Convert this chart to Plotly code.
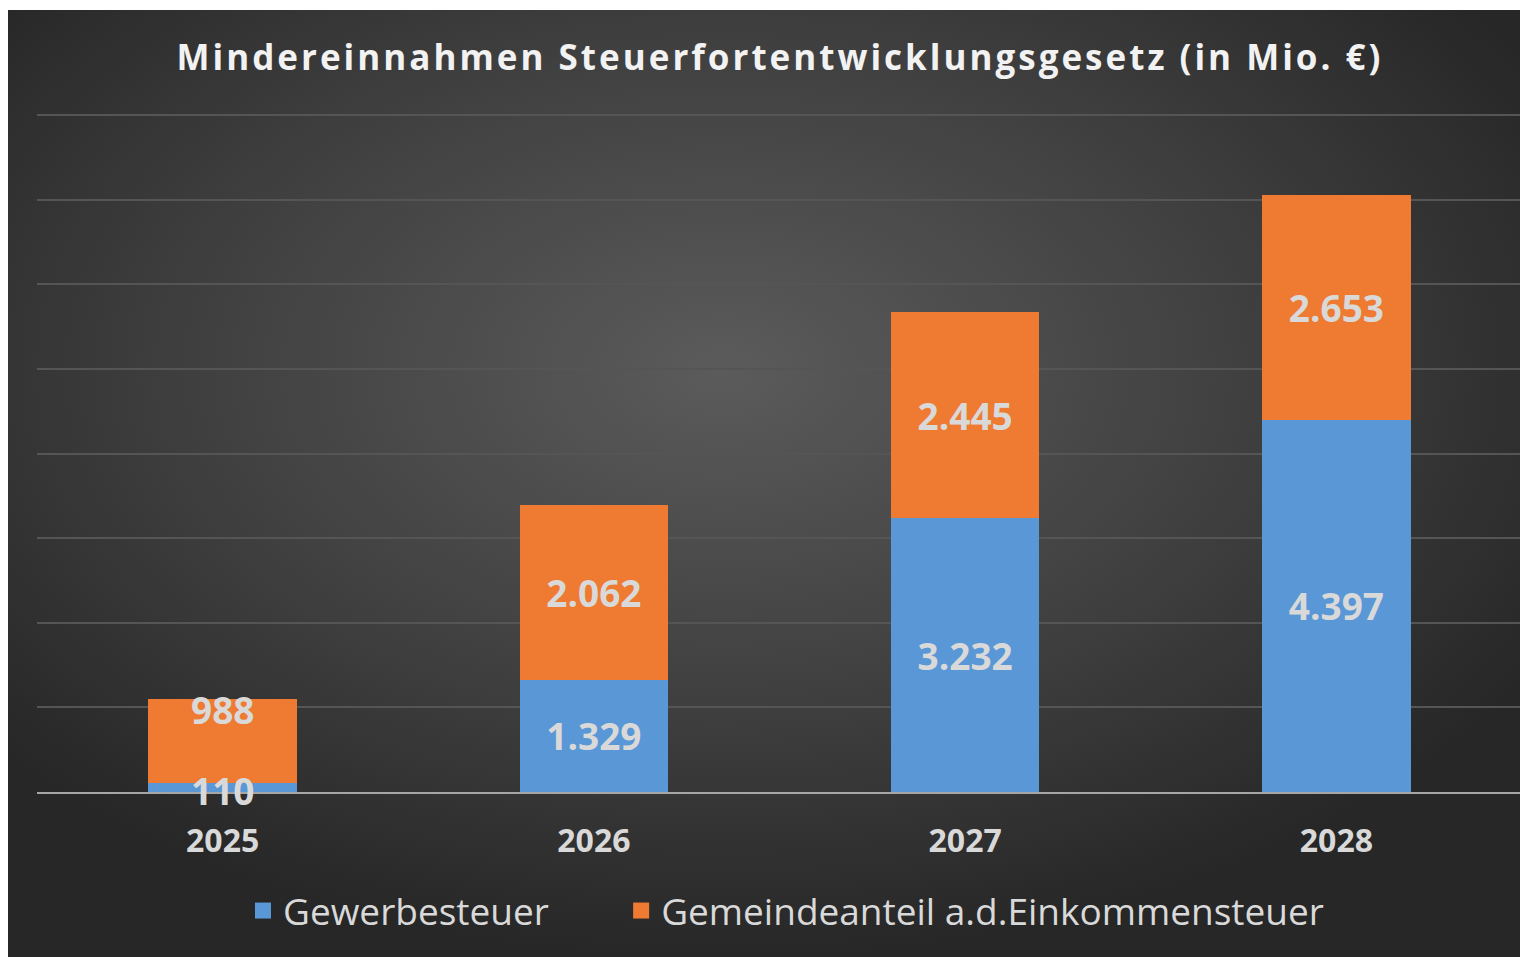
import base64
import plotly.graph_objects as go

years = ["2025", "2026", "2027", "2028"]
gewerbe = [110, 1329, 3232, 4397]
einkommen = [988, 2062, 2445, 2653]
series_names = ["Gewerbesteuer", "Gemeindeanteil a.d.Einkommensteuer"]
title_text = "Mindereinnahmen Steuerfortentwicklungsgesetz (in Mio. €)"


def de_fmt(v):
    return f"{v:,}".replace(",", ".")


# figure sits at (8, 8) in the page because of the default body margin
W, H = 1520, 949
L, R, B = 29, 6, 165
pw = W - L - R
ph = 679
T = H - B - ph
YMAX = 8000 * ph / 677

BLUE = "#5a97d6"
ORANGE = "#ee7b31"
LABEL = "#d9d9d9"
FONT = "Open Sans"
LBL_SIZE = 37

svg = (
    '<svg xmlns="http://www.w3.org/2000/svg" width="1520" height="947" '
    'viewBox="0 0 1520 947" preserveAspectRatio="none">'
    '<defs><radialGradient id="g" cx="0.47" cy="0.38" r="0.62" fx="0.47" fy="0.38">'
    '<stop offset="0" stop-color="#5b5b5b"/>'
    '<stop offset="0.55" stop-color="#404040"/>'
    '<stop offset="1" stop-color="#272727"/>'
    '</radialGradient></defs>'
    '<rect x="0" y="0" width="1520" height="947" fill="url(#g)"/></svg>'
)
src = "data:image/svg+xml;base64," + base64.b64encode(svg.encode()).decode()

lbl_font = dict(family=FONT, size=LBL_SIZE, color=LABEL, weight="bold")

fig = go.Figure()

fig.add_trace(go.Bar(
    x=years, y=gewerbe, name=series_names[0], marker=dict(color=BLUE, line=dict(width=0)),
    text=["" if i == 0 else de_fmt(v) for i, v in enumerate(gewerbe)],
    textposition="inside", textangle=0,
    constraintext="none", insidetextanchor="middle", textfont=lbl_font,
    showlegend=False,
))
fig.add_trace(go.Bar(
    x=years, y=einkommen, name=series_names[1], marker=dict(color=ORANGE, line=dict(width=0)),
    text=["" if i == 0 else de_fmt(v) for i, v in enumerate(einkommen)],
    textposition="inside", textangle=0, constraintext="none", insidetextanchor="middle",
    textfont=lbl_font, showlegend=False,
))
# labels of the two small 2025 segments (drawn on top, as in the original)
fig.add_annotation(
    x=0, y=gewerbe[0] / 2, text=de_fmt(gewerbe[0]),
    showarrow=False, yanchor="middle", yshift=-3, font=lbl_font,
)
fig.add_annotation(
    x=0, y=gewerbe[0] + einkommen[0], text=de_fmt(einkommen[0]),
    showarrow=False, yanchor="middle", yshift=-10, font=lbl_font,
)

# legend proxies (bigger square swatches)
legend_labels = [series_names[0] + "\u00a0" * 7, series_names[1]]
for nm, col in zip(legend_labels, [BLUE, ORANGE]):
    fig.add_trace(go.Scatter(
        x=[None], y=[None], mode="markers", name=nm,
        marker=dict(symbol="square", size=24, color=col),
    ))

fig.add_layout_image(dict(
    source=src, xref="paper", yref="paper",
    x=-L / pw, y=(T + ph - 2) / ph,
    sizex=W / pw, sizey=(H - 2) / ph,
    xanchor="left", yanchor="top", sizing="stretch", layer="below",
))

fig.update_layout(
    width=W, height=H,
    margin=dict(l=L, r=R, t=T, b=B, autoexpand=False),
    paper_bgcolor="white", plot_bgcolor="rgba(0,0,0,0)",
    barmode="stack", bargap=0.6,
    title=dict(
        text='<span style="letter-spacing:3px">' + title_text + "</span>",
        x=772 / W, xref="container", xanchor="center",
        y=1 - 50 / H, yref="container", yanchor="middle",
        font=dict(family=FONT, size=35, color="#f2f2f2", weight="bold"),
    ),
    xaxis=dict(
        type="category", categoryorder="array", categoryarray=years,
        range=[-0.5, len(years) - 0.5], autorange=False,
        showgrid=False, showline=True, linecolor="#a6a6a6", linewidth=2,
        ticks="", ticklabelstandoff=20,
        tickfont=dict(family=FONT, size=32, color=LABEL, weight="bold"),
    ),
    yaxis=dict(
        range=[0, YMAX], autorange=False, dtick=1000, showticklabels=False, showgrid=True,
        gridcolor="#555555", gridwidth=1.5, zeroline=False, showline=False,
    ),
    legend=dict(
        orientation="h", traceorder="normal",
        xref="paper", x=(778 - L) / pw, xanchor="center",
        yref="paper", y=(T + ph - 903) / ph, yanchor="middle",
        font=dict(family=FONT, size=37, color=LABEL),
        bgcolor="rgba(0,0,0,0)", itemsizing="trace", itemwidth=30,
    ),
)

fig.write_html("out.html")
